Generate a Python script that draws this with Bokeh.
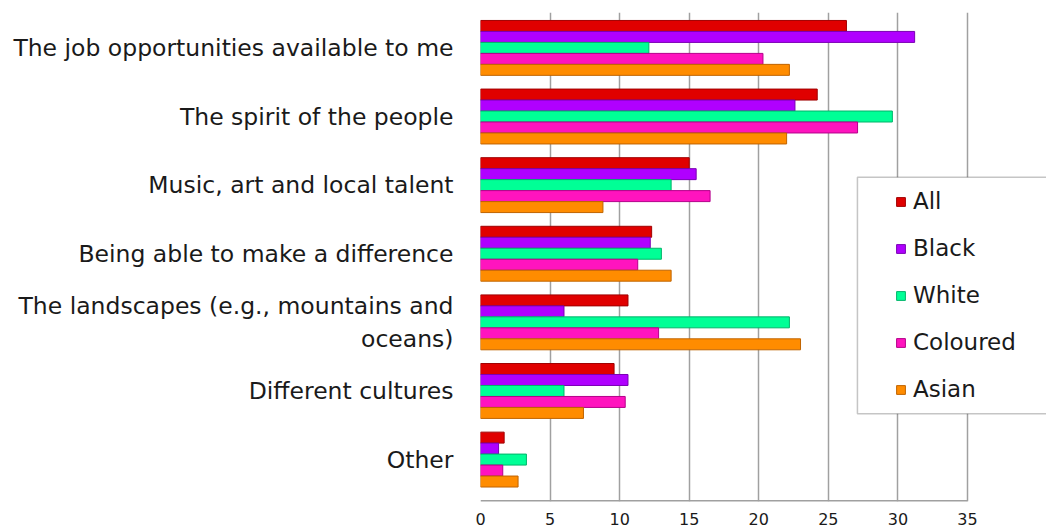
from bokeh.plotting import figure
from bokeh.models import Range1d, FixedTicker, Legend, LegendItem, ColumnDataSource, BoxAnnotation
from bokeh.transform import dodge
from bokeh.embed import file_html
from bokeh.resources import INLINE

categories = [
    "The job opportunities available to me",
    "The spirit of the people",
    "Music, art and local talent",
    "Being able to make a difference",
    "The landscapes (e.g., mountains and\noceans)",
    "Different cultures",
    "Other",
]
series = ["All", "Black", "White", "Coloured", "Asian"]
all_vals = [26.3, 24.2, 15.0, 12.3, 10.6, 9.6, 1.7]
black_vals = [31.2, 22.6, 15.5, 12.2, 6.0, 10.6, 1.3]
white_vals = [12.1, 29.6, 13.7, 13.0, 22.2, 6.0, 3.3]
coloured_vals = [20.3, 27.1, 16.5, 11.3, 12.8, 10.4, 1.6]
asian_vals = [22.2, 22.0, 8.8, 13.7, 23.0, 7.4, 2.7]
x_ticks = [0, 5, 10, 15, 20, 25, 30, 35]

colors = ["#E00000", "#B000FF", "#00FF96", "#FF14BE", "#FF8C00"]
dark = ["#A00000", "#7A00B4", "#00B46A", "#B4008A", "#C06400"]
offsets = [-0.32, -0.16, 0.0, 0.16, 0.32]

FONT = "DejaVu Sans"

pos = list(range(len(categories)))
src = ColumnDataSource(dict(
    pos=pos, All=all_vals, Black=black_vals, White=white_vals,
    Coloured=coloured_vals, Asian=asian_vals,
))

X_END = 35 * 566 / 487.0
Y_BOTTOM = 6.611
Y_TOP = -0.516
p = figure(
    width=1046, height=527,
    y_range=Range1d(Y_BOTTOM, Y_TOP),
    x_range=Range1d(0, X_END),
    output_backend="svg", toolbar_location=None,
    min_border_left=480, min_border_right=0, min_border_top=12, min_border_bottom=5,
)
p.outline_line_color = None
p.background_fill_color = "white"

legend_items = []
for s, c, d, off in zip(series, colors, dark, offsets):
    r = p.hbar(y=dodge("pos", off), left=0, right=s, height=0.16,
               source=src, fill_color=c, line_color=d, line_width=1)
    legend_items.append(LegendItem(label=s, renderers=[r]))

# floor line of the value axis (0 .. 35)
p.segment(x0=[x_ticks[0]], x1=[x_ticks[-1]], y0=[Y_BOTTOM], y1=[Y_BOTTOM],
          line_color="#A0A0A0", line_width=3)

p.xgrid.grid_line_color = "#A0A0A0"
p.xgrid.grid_line_width = 1.5
p.ygrid.grid_line_color = None

xa = p.xaxis[0]
xa.ticker = FixedTicker(ticks=x_ticks)
xa.axis_line_color = None
xa.major_tick_line_color = None
xa.minor_tick_line_color = None
xa.major_tick_out = 0
xa.major_tick_in = 0
xa.major_label_text_font = FONT
xa.major_label_text_font_size = "16px"
xa.major_label_text_color = "#1a1a1a"
xa.major_label_standoff = 11

ya = p.yaxis[0]
ya.ticker = FixedTicker(ticks=pos)
ya.major_label_overrides = {i: c for i, c in zip(pos, categories)}
ya.axis_line_color = None
ya.major_tick_line_color = None
ya.minor_tick_line_color = None
ya.major_tick_out = 0
ya.major_tick_in = 0
ya.major_label_text_font = FONT
ya.major_label_text_font_size = "23.5px"
ya.major_label_text_color = "#1a1a1a"
ya.major_label_standoff = 27

box = BoxAnnotation(left=27.09, right=45, top=1.884, bottom=5.331,
                    fill_color="white", fill_alpha=1,
                    line_color="#404040", line_width=1.5)
p.add_layout(box)

legend = Legend(
    items=legend_items, location=(415, 99), padding=0, spacing=21,
    glyph_height=11, glyph_width=11, label_standoff=7,
    label_text_font=FONT, label_text_font_size="23px", label_text_color="#1a1a1a",
    label_height=20, border_line_color=None,
    background_fill_alpha=0, margin=0,
)
p.add_layout(legend)

open("out.html", "w").write(file_html(p, INLINE))
